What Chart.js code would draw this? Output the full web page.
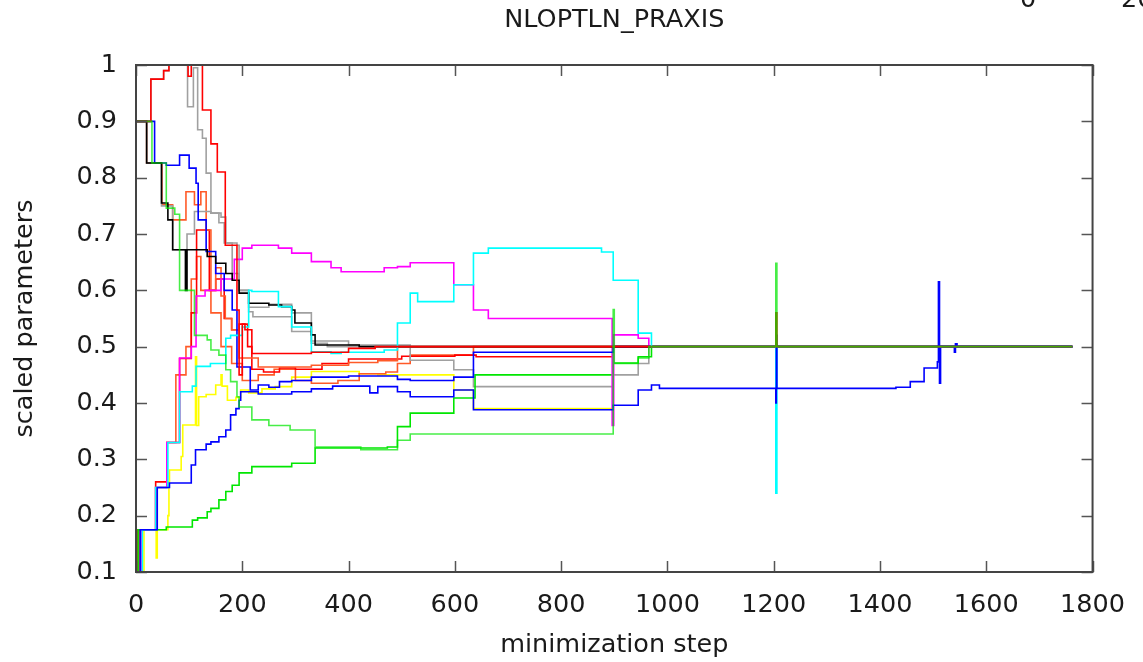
<!DOCTYPE html>
<html>
<head>
<meta charset="utf-8">
<title>NLOPTLN_PRAXIS</title>
<script src="https://cdn.jsdelivr.net/npm/chart.js@4.4.1/dist/chart.umd.min.js"></script>
<style>
  html, body { margin: 0; padding: 0; background: #fff; }
  #wrap { width: 1143px; height: 662px; }
</style>
</head>
<body>
<div id="wrap"><canvas id="chart"></canvas></div>
<script>
// parameter traces, [minimization step, scaled value] at each change of value
const redHigh = [[0,0.9],[28,0.975],[52,0.99],[62,1.0],[98,0.98],[104,1.0],[125,0.92],[141,0.86],[153,0.81],[168,0.68],[190,0.565],[194,0.45],[200,0.54],[205,0.53],[218,0.488],[330,0.49],[400,0.497],[450,0.5],[1203,0.5],[1204,0.56],[1206,0.5],[1762,0.5]];
const redLow = [[0,0.1],[3,0.175],[37,0.26],[58,0.33],[82,0.479],[104,0.56],[114,0.707],[138,0.6],[150,0.62],[166,0.55],[180,0.53],[194,0.54],[210,0.5],[218,0.46],[240,0.455],[270,0.462],[300,0.46],[350,0.47],[400,0.478],[500,0.483],[600,0.485],[640,0.482],[898,0.5],[1762,0.5]];
const tomatoHigh = [[0,0.9],[20,0.826],[49,0.752],[69,0.725],[94,0.775],[110,0.752],[122,0.775],[132,0.707],[141,0.6],[150,0.64],[160,0.59],[168,0.55],[180,0.53],[194,0.48],[230,0.464],[330,0.467],[400,0.472],[455,0.475],[492,0.5],[1762,0.5]];
const tomatoLow = [[0,0.1],[6,0.175],[37,0.25],[58,0.33],[75,0.45],[94,0.5],[104,0.62],[114,0.66],[122,0.6],[141,0.56],[160,0.5],[180,0.47],[200,0.44],[230,0.45],[260,0.46],[300,0.44],[330,0.435],[380,0.44],[420,0.452],[470,0.455],[492,0.47],[516,0.485],[635,0.5],[1762,0.5]];
const grayHigh = [[0,0.9],[28,0.975],[52,0.99],[62,1.0],[97,0.926],[108,0.995],[116,0.885],[125,0.87],[132,0.808],[141,0.737],[160,0.73],[169,0.684],[190,0.68],[194,0.6],[212,0.562],[220,0.553],[293,0.527],[330,0.506],[360,0.5],[1762,0.5]];
const grayLow = [[0,0.9],[20,0.826],[48,0.75],[69,0.672],[96,0.7],[110,0.74],[141,0.737],[156,0.72],[166,0.684],[181,0.63],[194,0.6],[212,0.57],[250,0.575],[293,0.56],[330,0.51],[400,0.503],[516,0.476],[598,0.459],[635,0.429],[898,0.45],[945,0.47],[965,0.5],[1762,0.5]];
const blackTrace = [[0,0.9],[20,0.826],[48,0.755],[60,0.725],[69,0.672],[93,0.6],[96,0.672],[134,0.66],[150,0.648],[169,0.63],[181,0.618],[194,0.595],[212,0.577],[250,0.574],[274,0.571],[293,0.565],[299,0.542],[330,0.521],[337,0.503],[420,0.5],[1762,0.5]];
const blueHigh = [[0,0.9],[35,0.826],[57,0.822],[82,0.84],[100,0.817],[113,0.79],[117,0.725],[132,0.669],[150,0.63],[166,0.6],[181,0.565],[190,0.464],[215,0.423],[230,0.432],[250,0.428],[270,0.438],[293,0.44],[330,0.446],[400,0.448],[492,0.442],[516,0.44],[598,0.446],[635,0.49],[898,0.5],[1762,0.5]];
const blueLow = [[0,0.1],[8,0.175],[40,0.25],[63,0.258],[104,0.29],[112,0.317],[132,0.327],[141,0.331],[156,0.34],[169,0.352],[178,0.379],[188,0.39],[194,0.405],[197,0.42],[230,0.416],[293,0.42],[330,0.425],[370,0.43],[440,0.418],[455,0.429],[492,0.42],[516,0.411],[598,0.423],[635,0.388],[898,0.396],[945,0.423],[970,0.432],[985,0.426],[1204,0.4],[1205,0.52],[1206,0.426],[1430,0.428],[1457,0.438],[1483,0.462],[1508,0.473],[1510,0.615],[1512,0.435],[1514,0.5],[1540,0.49],[1542,0.505],[1545,0.5],[1762,0.5]];
const greenHigh = [[0,0.9],[30,0.826],[57,0.746],[73,0.735],[82,0.6],[110,0.52],[134,0.512],[141,0.494],[156,0.485],[169,0.459],[178,0.438],[190,0.411],[194,0.393],[218,0.37],[250,0.36],[290,0.352],[337,0.322],[423,0.317],[492,0.334],[516,0.345],[898,0.566],[900,0.47],[945,0.48],[965,0.5],[1204,0.648],[1206,0.5],[1762,0.5]];
const greenLow = [[0,0.1],[4,0.175],[57,0.18],[106,0.192],[116,0.196],[134,0.207],[141,0.213],[156,0.228],[169,0.243],[181,0.254],[194,0.276],[218,0.287],[293,0.293],[337,0.32],[473,0.322],[492,0.358],[516,0.382],[598,0.409],[638,0.45],[898,0.471],[945,0.482],[970,0.5],[1762,0.5]];
const cyanTrace = [[0,0.1],[12,0.175],[37,0.25],[60,0.33],[82,0.42],[106,0.43],[113,0.465],[140,0.47],[169,0.515],[178,0.52],[200,0.535],[212,0.6],[218,0.598],[268,0.571],[293,0.535],[330,0.491],[367,0.488],[386,0.49],[467,0.494],[492,0.542],[516,0.595],[530,0.58],[598,0.61],[635,0.666],[663,0.675],[876,0.668],[898,0.618],[945,0.524],[970,0.5],[1204,0.24],[1206,0.5],[1762,0.5]];
const magentaTrace = [[0,0.1],[10,0.175],[37,0.25],[58,0.33],[82,0.48],[104,0.5],[113,0.59],[130,0.6],[160,0.62],[185,0.655],[200,0.675],[218,0.68],[268,0.675],[293,0.666],[330,0.651],[367,0.64],[386,0.633],[467,0.64],[492,0.642],[516,0.649],[598,0.61],[635,0.565],[663,0.55],[896,0.36],[899,0.521],[945,0.515],[965,0.5],[1762,0.5]];
const yellowTrace = [[0,0.1],[15,0.175],[38,0.125],[40,0.175],[60,0.2],[62,0.26],[63,0.281],[85,0.305],[88,0.361],[112,0.482],[114,0.36],[118,0.411],[132,0.415],[150,0.432],[160,0.45],[162,0.43],[172,0.405],[188,0.41],[197,0.423],[212,0.418],[237,0.425],[262,0.429],[293,0.446],[330,0.456],[420,0.452],[455,0.45],[598,0.423],[635,0.39],[898,0.5],[1762,0.5]];

// axis ranges and the leftover labels peeking in at the top edge
const stepRange = [0, 1800];
const stepTick = 200;
const paramRange = [0.1, 1];
const paramTick = 0.1;
const strayTopLabels = ['0', '200'];
const chartTitle = 'NLOPTLN_PRAXIS';

const FONT = '"DejaVu Sans", "Liberation Sans", sans-serif';
const TICK = 11;
const INK = '#1a1a1a';

// first entry ends up on top
const traces = [
  { data: greenHigh, color: 'rgba(0, 230, 0, 0.72)' },
  { data: redHigh, color: '#ff0000' },
  { data: blueLow, color: '#0000ff' },
  { data: cyanTrace, color: '#00ffff' },
  { data: blackTrace, color: '#000000' },
  { data: blueHigh, color: '#0000ff' },
  { data: magentaTrace, color: '#ff00ff' },
  { data: greenLow, color: '#00e600' },
  { data: grayLow, color: '#a0a0a0' },
  { data: tomatoHigh, color: '#ff5a28' },
  { data: redLow, color: '#ff0000' },
  { data: tomatoLow, color: '#ff5a28' },
  { data: yellowTrace, color: '#ffff00' },
  { data: grayHigh, color: '#a0a0a0' },
];

// border, inward ticks on all sides, y labels, title, stray labels
const frame = {
  id: 'frame',
  afterDatasetsDraw(chart) {
    const { ctx, chartArea: a, scales: { x, y } } = chart;
    ctx.save();
    ctx.strokeStyle = '#555';
    ctx.lineWidth = 1.5;
    ctx.beginPath();
    x.ticks.forEach(t => {
      const px = Math.round(x.getPixelForValue(t.value)) + 0.5;
      ctx.moveTo(px, a.bottom); ctx.lineTo(px, a.bottom - TICK);
      ctx.moveTo(px, a.top); ctx.lineTo(px, a.top + TICK);
    });
    y.ticks.forEach(t => {
      const py = Math.round(y.getPixelForValue(t.value)) + 0.5;
      ctx.moveTo(a.left, py); ctx.lineTo(a.left + TICK, py);
      ctx.moveTo(a.right, py); ctx.lineTo(a.right - TICK, py);
    });
    ctx.stroke();
    ctx.lineWidth = 2;
    ctx.strokeStyle = '#444';
    ctx.strokeRect(a.left, a.top, a.right - a.left, a.bottom - a.top);

    ctx.fillStyle = INK;
    ctx.font = '25.5px ' + FONT;
    ctx.textBaseline = 'middle';
    ctx.textAlign = 'right';
    y.ticks.forEach(t => {
      const label = String(+t.value.toFixed(1));
      ctx.fillText(label, a.left - 19, y.getPixelForValue(t.value));
    });

    ctx.textAlign = 'center';
    ctx.fillText(chartTitle, (a.left + a.right) / 2, 20);

    ctx.textBaseline = 'alphabetic';
    ctx.fillText(strayTopLabels[0], 1028, 7);
    ctx.textAlign = 'left';
    ctx.fillText(strayTopLabels[1], 1121, 7);
    ctx.restore();
  }
};

new Chart(document.getElementById('chart'), {
  type: 'line',
  data: {
    datasets: traces.map(t => ({
      data: t.data.map(([s, v]) => ({ x: s, y: v })),
      borderColor: t.color,
      borderWidth: 1.6,
      stepped: true,
      pointRadius: 0,
      fill: false,
    }))
  },
  options: {
    responsive: true,
    maintainAspectRatio: false,
    animation: false,
    events: [],
    layout: { padding: { left: 0, right: 41, top: 65, bottom: 0 } },
    plugins: {
      legend: { display: false },
      tooltip: { enabled: false },
      title: { display: false },
    },
    scales: {
      x: {
        type: 'linear',
        min: stepRange[0],
        max: stepRange[1],
        grid: { display: false, drawTicks: false },
        border: { display: false },
        ticks: {
          stepSize: stepTick,
          color: INK,
          padding: 18,
          maxRotation: 0,
          font: { family: FONT, size: 25.5 },
          callback: v => String(v),
        },
        title: {
          display: true,
          text: 'minimization step',
          color: INK,
          font: { family: FONT, size: 25.5 },
          padding: { top: 0, bottom: 1.5 },
        },
        afterFit: axis => { axis.height = 90; },
      },
      y: {
        min: paramRange[0],
        max: paramRange[1],
        grid: { display: false, drawTicks: false },
        border: { display: false },
        ticks: { stepSize: paramTick, display: false },
        title: {
          display: true,
          text: 'scaled parameters',
          color: INK,
          font: { family: FONT, size: 25.5 },
          padding: { top: 10, bottom: 0 },
        },
        afterFit: axis => { axis.width = 136; },
      },
    },
  },
  plugins: [frame],
});
</script>
</body>
</html>
